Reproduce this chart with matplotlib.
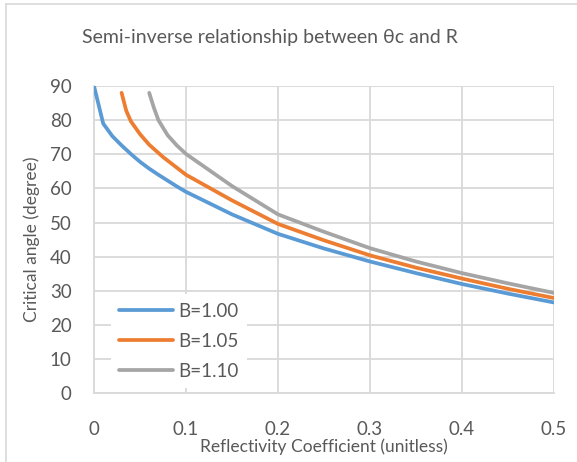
import matplotlib
matplotlib.use("Agg")
import matplotlib.pyplot as plt
from matplotlib.lines import Line2D

# ---- data ----
r_b100 = [0, 0.01, 0.02, 0.03, 0.04, 0.05, 0.06, 0.07, 0.08, 0.09, 0.1, 0.15, 0.2, 0.25, 0.3, 0.35, 0.4, 0.45, 0.5]
t_b100 = [90, 79.0, 75.3, 72.6, 70.1, 67.8, 65.8, 64.0, 62.3, 60.6, 59.0, 52.4, 46.7, 42.4, 38.6, 35.2, 32.0, 29.2, 26.6]

r_b105 = [0.03, 0.035, 0.04, 0.05, 0.06, 0.075, 0.1, 0.15, 0.2, 0.25, 0.3, 0.35, 0.4, 0.45, 0.5]
t_b105 = [88.0, 82.8, 79.7, 75.9, 72.8, 69.2, 64.0, 56.5, 49.6, 44.8, 40.4, 36.8, 33.6, 30.6, 27.9]

r_b110 = [0.06, 0.065, 0.07, 0.08, 0.09, 0.1, 0.15, 0.2, 0.25, 0.3, 0.35, 0.4, 0.45, 0.5]
t_b110 = [88.0, 83.7, 80.0, 75.6, 72.6, 70.1, 60.7, 52.4, 47.3, 42.5, 38.6, 35.2, 32.2, 29.4]

labels = ["B=1.00", "B=1.05", "B=1.10"]
colors = ["#5B9BD5", "#ED7D31", "#A5A5A5"]
x_ticks = [0, 0.1, 0.2, 0.3, 0.4, 0.5]
x_ticklabels = ["0", "0.1", "0.2", "0.3", "0.4", "0.5"]
y_ticks = [0, 10, 20, 30, 40, 50, 60, 70, 80, 90]

title = "Semi-inverse relationship between \u03b8c and R"
xlabel = "Reflectivity Coefficient (unitless)"
ylabel = "Critical angle (degree)"

plt.rcParams['font.family'] = ['Lato', 'DejaVu Sans']
text_color = "#595959"
grid_color = "#D9D9D9"

W, H = 577, 462
fig = plt.figure(figsize=(W / 100, H / 100), dpi=100)
ax = fig.add_axes([94 / W, 1 - 393.3 / H, (554 - 94) / W, (393.3 - 86) / H])

series = [(r_b100, t_b100), (r_b105, t_b105), (r_b110, t_b110)]
for (r, t), lab, c in zip(series, labels, colors):
    ax.plot(r, t, color=c, lw=2.7, label=lab, solid_joinstyle='round', solid_capstyle='round', zorder=3)

ax.set_xlim(0, 0.5)
ax.set_ylim(0, 90)
ax.set_xticks(x_ticks)
ax.set_xticklabels(x_ticklabels)
ax.set_yticks(y_ticks)
ax.grid(True, color=grid_color, lw=1.3, zorder=0)
ax.set_axisbelow(True)
for s in ["top", "right"]:
    ax.spines[s].set_visible(False)
for s in ["left", "bottom"]:
    ax.spines[s].set_color(grid_color)
    ax.spines[s].set_linewidth(1.3)
ax.tick_params(length=0, labelsize=13.5, colors=text_color)
ax.tick_params(axis='y', pad=16)
ax.tick_params(axis='x', pad=20)

ax.set_xlabel(xlabel, fontsize=12.5, color=text_color, labelpad=0)
ax.set_ylabel(ylabel, fontsize=12.5, color=text_color, labelpad=7)

fig.text(270 / W, 1 - 38 / H, title, fontsize=14, color=text_color, ha='center', va='center')

leg = ax.legend(loc='lower left', bbox_to_anchor=(0.036, 0.016), frameon=True, fontsize=13.5,
                handlelength=2.9, handletextpad=0.25, labelspacing=0.7, borderpad=0.45,
                borderaxespad=0.0, labelcolor=text_color)
leg.get_frame().set_facecolor('white')
leg.get_frame().set_edgecolor('none')
leg.get_frame().set_alpha(1.0)

# outer chart border (left and top visible)
fig.add_artist(Line2D([6 / W, 6 / W], [0, 1 - 4 / H], transform=fig.transFigure, color="#D9D9D9", lw=1.2))
fig.add_artist(Line2D([6 / W, 1], [1 - 4 / H, 1 - 4 / H], transform=fig.transFigure, color="#D9D9D9", lw=1.2))

fig.savefig("out.png", dpi=100, facecolor='white')
